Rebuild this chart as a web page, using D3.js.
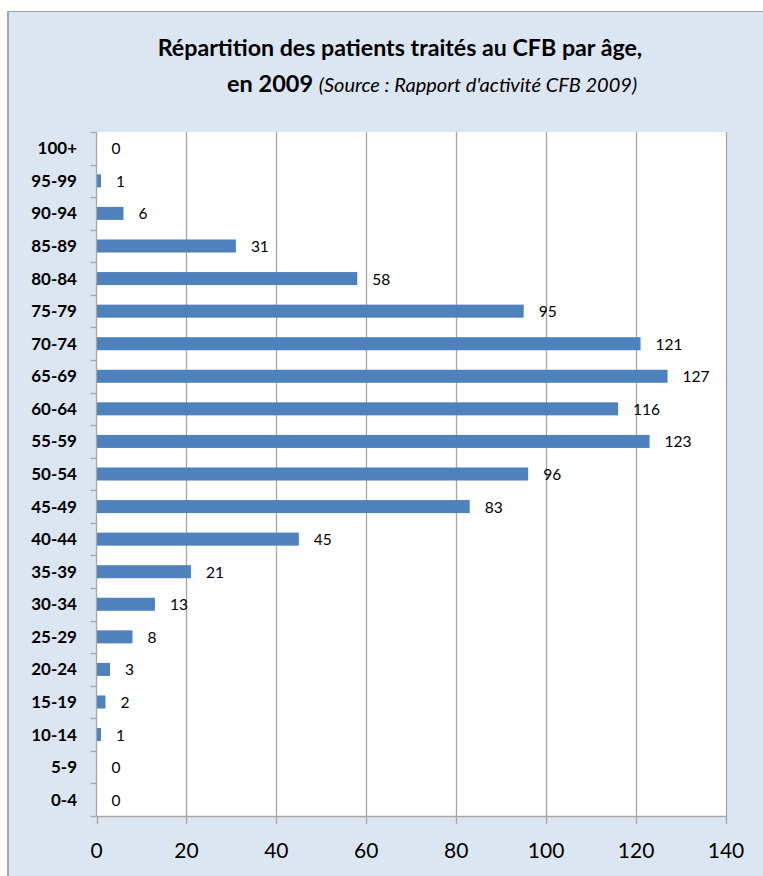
<!DOCTYPE html>
<html>
<head>
<meta charset="utf-8">
<script src="https://cdn.jsdelivr.net/npm/d3@7"></script>
<style>
  html, body { margin: 0; padding: 0; background: #fff; }
  svg { display: block; }
</style>
</head>
<body>
<svg width="763" height="876"></svg>
<script>
'use strict';

// age groups, top to bottom
var ageGroups = ['100+', '95-99', '90-94', '85-89', '80-84', '75-79', '70-74', '65-69',
	'60-64', '55-59', '50-54', '45-49', '40-44', '35-39', '30-34', '25-29', '20-24',
	'15-19', '10-14', '5-9', '0-4'];
var patients = [0, 1, 6, 31, 58, 95, 121, 127, 116, 123, 96, 83, 45, 21, 13, 8, 3, 2, 1, 0, 0];
var xTicks = [0, 20, 40, 60, 80, 100, 120, 140];

var svg = d3.select('svg');
var font = 'Lato, "Open Sans", sans-serif';

// chart area background + frame
svg.append('rect')
	.attr('x', 7.5).attr('y', 11.5)
	.attr('width', 770).attr('height', 880)
	.attr('fill', '#dce6f2')
	.attr('stroke', '#a6a6a6')
	.attr('stroke-width', 1);
svg.append('line')
	.attr('x1', 8).attr('x2', 8).attr('y1', 11).attr('y2', 876)
	.attr('stroke', '#a6a6a6').attr('stroke-width', 2);

var plot = { left: 96.5, top: 132, right: 726, bottom: 816 };

var x = d3.scaleLinear().domain([0, 140]).range([plot.left, plot.right]);
var y = d3.scaleBand().domain(ageGroups).range([plot.top, plot.bottom]).paddingInner(0.6).paddingOuter(0.3);
var yb = d3.scaleBand().domain(ageGroups).range([plot.top, plot.bottom]);

// plot background
svg.append('rect')
	.attr('x', plot.left).attr('y', plot.top)
	.attr('width', plot.right - plot.left).attr('height', plot.bottom - plot.top)
	.attr('fill', '#fff');

// title (two lines)
svg.append('text')
	.attr('x', 400).attr('y', 56)
	.attr('text-anchor', 'middle')
	.attr('font-family', font)
	.attr('font-size', 23.2).attr('font-weight', 'bold')
	.attr('fill', '#000')
	.text('Répartition des patients traités au CFB par âge,');
var l2 = svg.append('text')
	.attr('x', 227).attr('y', 92)
	.attr('font-family', font)
	.attr('fill', '#000');
l2.append('tspan').attr('font-size', 23.5).attr('font-weight', 'bold').text('en 2009 ');
l2.append('tspan').attr('font-size', 20).attr('font-style', 'italic')
	.text("(Source : Rapport d'activité CFB 2009)");

// vertical gridlines
svg.append('g').selectAll('line')
	.data(xTicks.slice(1))
	.enter().append('line')
	.attr('x1', function (d) { return Math.round(x(d)) + 0.5; })
	.attr('x2', function (d) { return Math.round(x(d)) + 0.5; })
	.attr('y1', plot.top).attr('y2', plot.bottom)
	.attr('stroke', '#a6a6a6').attr('stroke-width', 1.3);

// bars
svg.append('g').selectAll('rect')
	.data(patients)
	.enter().append('rect')
	.attr('x', x(0))
	.attr('y', function (d, i) { return y(ageGroups[i]); })
	.attr('width', function (d) { return x(d) - x(0); })
	.attr('height', y.bandwidth())
	.attr('fill', '#4f81bd');

// value labels
svg.append('g').selectAll('text')
	.data(patients)
	.enter().append('text')
	.attr('x', function (d) { return x(d) + 15; })
	.attr('y', function (d, i) { return yb(ageGroups[i]) + yb.bandwidth() / 2 + 6; })
	.attr('font-family', font)
	.attr('font-size', 15.5)
	.attr('fill', '#000')
	.text(function (d) { return d; });

// y axis: line, ticks at band boundaries, labels
var yAxis = svg.append('g');
yAxis.append('line')
	.attr('x1', plot.left).attr('x2', plot.left)
	.attr('y1', plot.top).attr('y2', plot.bottom)
	.attr('stroke', '#a6a6a6').attr('stroke-width', 1.3);
yAxis.selectAll('line.tick')
	.data(ageGroups.concat(['end']))
	.enter().append('line')
	.attr('class', 'tick')
	.attr('x1', plot.left - 6).attr('x2', plot.left)
	.attr('y1', function (d, i) { return Math.round(plot.top + i * yb.step()) + 0.5; })
	.attr('y2', function (d, i) { return Math.round(plot.top + i * yb.step()) + 0.5; })
	.attr('stroke', '#a6a6a6').attr('stroke-width', 1.3);
yAxis.selectAll('text')
	.data(ageGroups)
	.enter().append('text')
	.attr('x', 77)
	.attr('y', function (d) { return yb(d) + yb.bandwidth() / 2 + 6; })
	.attr('text-anchor', 'end')
	.attr('font-family', font)
	.attr('font-size', 17)
	.attr('font-weight', 'bold')
	.attr('fill', '#000')
	.text(function (d) { return d; });

// x axis
var xAxis = svg.append('g');
xAxis.append('line')
	.attr('x1', plot.left).attr('x2', plot.right)
	.attr('y1', plot.bottom + 0.5).attr('y2', plot.bottom + 0.5)
	.attr('stroke', '#a6a6a6').attr('stroke-width', 1.3);
xAxis.selectAll('line.tick')
	.data(xTicks)
	.enter().append('line')
	.attr('class', 'tick')
	.attr('x1', function (d) { return Math.round(x(d)) + 0.5; })
	.attr('x2', function (d) { return Math.round(x(d)) + 0.5; })
	.attr('y1', plot.bottom).attr('y2', plot.bottom + 8)
	.attr('stroke', '#a6a6a6').attr('stroke-width', 1.3);
xAxis.selectAll('text')
	.data(xTicks)
	.enter().append('text')
	.attr('x', function (d) { return x(d); })
	.attr('y', 858)
	.attr('text-anchor', 'middle')
	.attr('font-family', font)
	.attr('font-size', 21)
	.attr('fill', '#000')
	.text(function (d) { return d; });
</script>
</body>
</html>
